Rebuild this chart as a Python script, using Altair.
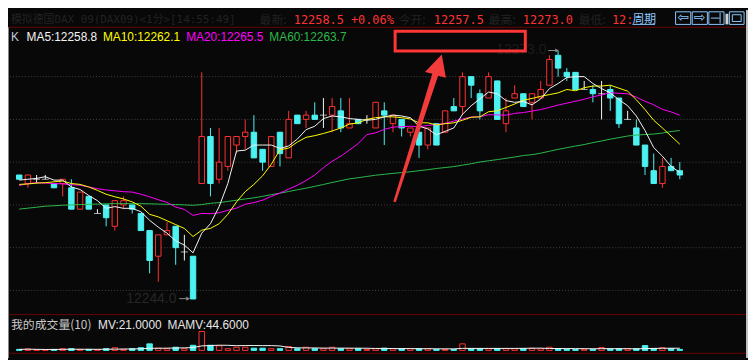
import altair as alt
import pandas as pd

# ---------------- data ----------------
opens = [12258.5, 12257.5, 12258.0, 12258.0, 12257.5, 12257.5, 12257.0, 12254.5, 12256.0, 12254.0,
         12255.0, 12252.5, 12255.0, 12255.0, 12254.0, 12252.0, 12249.0, 12251.5, 12252.5, 12249.5,
         12249.0, 12257.5, 12263.0, 12258.0, 12259.5, 12262.0, 12263.0, 12263.5, 12261.5, 12259.5,
         12263.5, 12260.5, 12265.5, 12265.0, 12265.5, 12265.5, 12265.5, 12266.0, 12264.0, 12265.0,
         12265.0, 12264.0, 12266.0, 12264.5, 12265.0, 12263.5, 12263.5, 12262.0, 12264.5, 12263.5,
         12266.5, 12266.5, 12270.0, 12268.0, 12267.5, 12269.5, 12264.5, 12267.5, 12268.0, 12267.0,
         12267.5, 12269.0, 12272.5, 12270.5, 12270.5, 12268.5, 12268.5, 12268.0, 12268.5, 12267.5,
         12265.0, 12264.0, 12262.0, 12259.0, 12257.5, 12259.5, 12259.0]
highs = [12258.5, 12258.5, 12258.5, 12258.5, 12257.5, 12258.0, 12258.0, 12256.5, 12256.0, 12254.5,
         12255.0, 12255.5, 12256.0, 12255.0, 12254.0, 12252.0, 12251.5, 12253.0, 12252.5, 12251.5,
         12249.0, 12270.5, 12264.0, 12264.0, 12263.0, 12263.0, 12265.0, 12265.5, 12261.5, 12263.0,
         12263.5, 12266.0, 12265.5, 12266.0, 12267.0, 12267.5, 12267.5, 12267.5, 12267.5, 12265.0,
         12265.5, 12267.0, 12267.0, 12265.5, 12265.0, 12264.0, 12263.5, 12264.0, 12264.5, 12266.0,
         12267.5, 12270.5, 12270.0, 12268.5, 12270.5, 12269.5, 12267.5, 12269.0, 12268.0, 12268.0,
         12269.5, 12272.5, 12273.0, 12271.0, 12270.5, 12269.5, 12269.0, 12269.5, 12269.0, 12267.5,
         12266.0, 12265.0, 12262.0, 12261.0, 12260.5, 12260.5, 12260.0]
lows = [12258.0, 12257.0, 12257.5, 12258.0, 12257.0, 12256.0, 12254.5, 12254.5, 12254.5, 12254.0,
        12252.5, 12252.0, 12254.5, 12254.0, 12252.0, 12247.0, 12246.0, 12251.5, 12248.0, 12248.5,
        12244.0, 12257.5, 12256.0, 12257.5, 12259.0, 12261.0, 12261.5, 12260.5, 12259.0, 12259.5,
        12259.5, 12260.5, 12264.5, 12264.0, 12265.0, 12264.0, 12263.5, 12263.5, 12264.0, 12264.5,
        12264.5, 12264.0, 12262.0, 12263.5, 12263.0, 12263.0, 12260.5, 12261.5, 12262.0, 12263.5,
        12266.0, 12265.5, 12267.5, 12265.0, 12267.5, 12265.0, 12263.5, 12267.5, 12266.5, 12265.0,
        12267.5, 12269.0, 12270.0, 12269.5, 12268.5, 12268.5, 12267.0, 12265.0, 12266.0, 12264.0,
        12265.0, 12262.0, 12258.5, 12257.5, 12257.0, 12259.0, 12258.0]
closes = [12258.0, 12258.5, 12258.0, 12258.0, 12257.0, 12258.0, 12254.5, 12256.5, 12254.5, 12254.0,
          12253.5, 12255.5, 12255.5, 12254.5, 12252.0, 12248.5, 12251.5, 12252.0, 12250.0, 12249.5,
          12244.0, 12263.0, 12257.5, 12260.0, 12263.0, 12263.0, 12263.5, 12260.5, 12260.0, 12263.0,
          12261.0, 12265.0, 12264.5, 12265.5, 12265.0, 12265.5, 12266.5, 12264.0, 12264.5, 12264.5,
          12265.0, 12267.0, 12265.5, 12265.5, 12264.0, 12264.0, 12262.0, 12264.0, 12262.0, 12266.0,
          12266.0, 12270.0, 12269.0, 12266.0, 12270.0, 12265.0, 12266.0, 12268.0, 12266.5, 12268.0,
          12268.5, 12272.0, 12271.0, 12270.0, 12268.5, 12268.5, 12268.0, 12268.0, 12267.5, 12264.5,
          12265.0, 12262.0, 12259.5, 12257.5, 12259.5, 12259.0, 12258.5]
volumes = [20, 30, 15, 10, 20, 35, 35, 20, 20, 15,
           35, 55, 25, 35, 55, 135, 45, 35, 65, 35,
           105, 390, 105, 95, 35, 65, 65, 45, 45, 35,
           35, 80, 35, 65, 35, 35, 65, 35, 35, 35,
           20, 35, 45, 35, 35, 35, 35, 35, 20, 20,
           20, 135, 35, 35, 35, 35, 35, 35, 35, 45,
           35, 65, 35, 20, 20, 25, 20, 60, 30, 35,
           35, 35, 100, 40, 55, 35, 21]
# moving-average values before enough bars are on screen
ma5_head = [12257.9, 12258.0, 12258.1, 12258.3]
ma10_head = [12257.4, 12257.45, 12257.55, 12257.6, 12257.7, 12257.8, 12257.5, 12257.4, 12257.1]
ma20_head = [12257.26, 12257.5, 12257.6, 12257.55, 12257.5, 12257.45, 12257.37, 12257.3, 12257.1,
             12256.9, 12256.75, 12256.65, 12256.55, 12256.5, 12256.25, 12255.95, 12255.6, 12255.3,
             12254.75]
ma60_head = [12254.51, 12254.62, 12254.73, 12254.85, 12254.9, 12254.96, 12255.0, 12255.04, 12255.07,
             12255.1, 12255.13, 12255.15, 12255.15, 12255.15, 12255.15, 12255.13, 12255.1, 12255.07,
             12255.04, 12255.0, 12254.96, 12255.04, 12255.19, 12255.27, 12255.41, 12255.55, 12255.7,
             12255.83, 12256.0, 12256.2, 12256.37, 12256.57, 12256.77, 12256.96, 12257.17, 12257.39,
             12257.62, 12257.84, 12258.05, 12258.18, 12258.33, 12258.47, 12258.58, 12258.69, 12258.78,
             12258.88, 12259.0, 12259.12, 12259.26, 12259.37, 12259.48, 12259.65, 12259.82, 12260.02,
             12260.16, 12260.3, 12260.45, 12260.6, 12260.78]
grid_prices = [12245, 12250, 12255, 12260, 12265, 12270]

# ---------------- build table ----------------
n = len(closes)
df = pd.DataFrame({"i": list(range(n)), "o": opens, "h": highs, "l": lows, "c": closes, "v": volumes})
df["zero"] = 0
df["kind"] = ["up" if c > o else ("down" if c < o else "flat") for o, c in zip(opens, closes)]


def ma(head, w):
    r = df["c"].rolling(w).mean().tolist()
    return list(head) + r[len(head):]


df["ma5"] = ma(ma5_head, 5)
df["ma10"] = ma(ma10_head, 10)
df["ma20"] = ma(ma20_head, 20)
df["ma60"] = ma(ma60_head, 60)
df["mamv"] = df["v"].rolling(10, min_periods=1).mean()

# ---------------- geometry / style ----------------
W, H = 748, 352
SX, SY = W / 756, H / 360


def px(x):
    return round(x * SX, 2)


def py(y):
    return round(y * SY, 2)


BG = "#080808"
RED = "#ff3232"
CYAN = "#4cf2f2"
WHITE = "#f4f4f4"
YELLOW = "#ffff00"
MAGENTA = "#ff00ff"
GREEN = "#2cb84a"
SEP = "#6a0404"
GRID = "#444444"
DARK = "#222222"
BLUE = "#8cc6ff"
CJK = "Noto Sans CJK SC"
MONO = "DejaVu Sans Mono, Noto Sans CJK SC"
SANS = "Liberation Sans"
NARROW = "Liberation Sans Narrow, Liberation Sans"

XS = alt.Scale(domain=[-6.5 / 9, (756 - 6.5) / 9], nice=False, zero=False)
PS = alt.Scale(domain=[12273 - (360 - 42.5) / 8.84, 12273 + 42.5 / 8.84], nice=False, zero=False)
VS = alt.Scale(domain=[-160, 7040], nice=False, zero=False)


def X():
    return alt.X("i:Q", scale=XS, axis=None)


def P(f):
    return alt.Y(f + ":Q", scale=PS, axis=None)


def V(f):
    return alt.Y(f + ":Q", scale=VS, axis=None)


one = pd.DataFrame({"k": [0]})


def label(text, x, y, color, size=12, font=SANS, align="left", **kw):
    return alt.Chart(one).mark_text(text=text, color=color, fontSize=size, font=font, align=align,
                                    baseline="middle", **kw).encode(x=alt.value(px(x)), y=alt.value(py(y)))


def hline(y, x1, x2, color, width=1, **kw):
    return alt.Chart(one).mark_rule(color=color, strokeWidth=width, **kw).encode(
        x=alt.value(px(x1)), x2=alt.value(px(x2)), y=alt.value(py(y)))


def vline(x, y1, y2, color, width=1):
    return alt.Chart(one).mark_rule(color=color, strokeWidth=width).encode(
        x=alt.value(px(x)), y=alt.value(py(y1)), y2=alt.value(py(y2)))


def box(x1, y1, x2, y2, stroke, width=1, fill=BG):
    return alt.Chart(one).mark_rect(fill=fill, stroke=stroke, strokeWidth=width).encode(
        x=alt.value(px(x1)), x2=alt.value(px(x2)), y=alt.value(py(y1)), y2=alt.value(py(y2)))


layers = []

# grid
layers.append(alt.Chart(pd.DataFrame({"p": grid_prices})).mark_rule(color=GRID, strokeDash=[1, 2], strokeWidth=1)
              .encode(y=P("p"), x=alt.value(px(2)), x2=alt.value(px(750))))

# candles
kind_color = alt.Color("kind:N", scale=alt.Scale(domain=["up", "down", "flat"], range=[RED, CYAN, WHITE]), legend=None)
layers.append(alt.Chart(df).mark_rule(strokeWidth=1).encode(x=X(), y=P("l"), y2="h:Q", color=kind_color))
layers.append(alt.Chart(df[df.kind == "up"]).mark_bar(size=5.5, fill=BG, stroke=RED, strokeWidth=1)
              .encode(x=X(), y=P("o"), y2="c:Q"))
layers.append(alt.Chart(df[df.kind == "down"]).mark_bar(size=5.5, fill=CYAN, stroke=CYAN, strokeWidth=1)
              .encode(x=X(), y=P("o"), y2="c:Q"))
layers.append(alt.Chart(df[df.kind == "flat"]).mark_tick(orient="horizontal", size=7, thickness=1, color=WHITE)
              .encode(x=X(), y=P("c")))

# moving averages
for f, col in [("ma60", GREEN), ("ma20", MAGENTA), ("ma10", YELLOW), ("ma5", WHITE)]:
    layers.append(alt.Chart(df).mark_line(color=col, strokeWidth=1).encode(x=X(), y=P(f)))

# volume panel
layers.append(alt.Chart(df[df.kind != "down"]).mark_bar(size=5.5, fill=BG, stroke=RED, strokeWidth=1)
              .encode(x=X(), y=V("v"), y2="zero:Q"))
layers.append(alt.Chart(df[df.kind == "down"]).mark_bar(size=5.5, fill=CYAN, stroke=CYAN, strokeWidth=1)
              .encode(x=X(), y=V("v"), y2="zero:Q"))
layers.append(alt.Chart(df).mark_line(color=WHITE, strokeWidth=1).encode(x=X(), y=V("mamv")))

# separators and borders
layers.append(hline(18, 0, 756, SEP))
layers.append(hline(315, 0, 756, SEP))
layers.append(hline(355, 0, 756, SEP))
layers.append(vline(0.5, 18, 360, "#8a8a8a"))
layers.append(box(754, 0, 756, 360, "#c4c4c4", 0, fill="#c4c4c4"))

# header
last = closes[-1]
layers.append(label("模拟德国DAX 09(DAX09)<1分>[14:55:49]", 3, 10, DARK, size=11, font=MONO))
layers.append(label("最新:", 257, 10, DARK, size=12, font=CJK))
layers.append(label(f"{last:.1f} +0.06%", 292, 10, RED, size=12, font=MONO))
layers.append(label("今开:", 399, 10, DARK, size=12, font=CJK))
layers.append(label(f"{opens[0] - 1.0:.1f}", 435, 10, RED, size=12, font=MONO))
layers.append(label("最高:", 491, 10, DARK, size=12, font=CJK))
layers.append(label(f"{max(highs):.1f}", 526, 10, RED, size=12, font=MONO))
layers.append(label("最低:", 583, 10, DARK, size=12, font=CJK))
layers.append(label("12:", 617, 10, RED, size=12, font=MONO))
layers.append(label("周期", 638, 9.5, BLUE, size=12, font=CJK))
layers.append(hline(15, 638, 661, BLUE))
for x1, glyph in [(682, "⇦"), (699, "⇨")]:
    layers.append(box(x1, 2, x1 + 15.5, 15, BLUE))
    layers.append(label(glyph, x1 + 7.8, 8.5, BLUE, size=14, font="DejaVu Sans", align="center"))
layers.append(box(716, 2, 731.5, 15, BLUE))
layers.append(hline(8.5, 718, 727, BLUE))
layers.append(vline(727.5, 3, 14, BLUE))
layers.append(box(733, 4, 736, 15, "#d0d0d0", 0, fill="#d0d0d0"))
layers.append(box(737, 2, 752, 15, BLUE))
layers.append(box(740, 5, 749, 12, BLUE))

# MA legend
layers.append(label("K", 3, 28, "#c4ccdc"))
layers.append(label(f"MA5:{df.ma5.iloc[-1]:.1f}", 19, 28, WHITE))
layers.append(label(f"MA10:{df.ma10.iloc[-1]:.1f}", 97, 28, YELLOW))
layers.append(label(f"MA20:{df.ma20.iloc[-1]:.1f}", 182, 28, MAGENTA))
layers.append(label(f"MA60:{df.ma60.iloc[-1]:.1f}", 267, 28, GREEN))

# volume legend
layers.append(label("我的成交量(10)", 3, 326, "#c8c8c8", size=12, font=CJK))
layers.append(label(f"MV:{volumes[-1]:.4f}", 92, 326, "#e6e6e6"))
layers.append(label(f"MAMV:{df.mamv.iloc[-1]:.4f}", 163, 326, "#e6e6e6"))

# extreme price markers
GRAYA = "#8c8c8c"
layers.append(label(f"{max(highs):.1f}", 550, 42, "#1c1c1c", size=14, font=NARROW, align="right"))
layers.append(hline(42, 552, 560, GRAYA))
layers.append(alt.Chart(one).mark_point(shape="triangle-right", size=18, filled=True, color=GRAYA, opacity=1)
              .encode(x=alt.value(px(561)), y=alt.value(py(42))))
layers.append(label(f"{min(lows):.1f}", 172, 298.5, "#262626", size=14, font=NARROW, align="right"))
layers.append(hline(298.5, 175, 183, GRAYA))
layers.append(alt.Chart(one).mark_point(shape="triangle-right", size=18, filled=True, color=GRAYA, opacity=1)
              .encode(x=alt.value(px(184)), y=alt.value(py(298.5))))

# red annotation: box and arrow
layers.append(alt.Chart(one).mark_rect(fillOpacity=0, stroke="#ff3636", strokeWidth=3).encode(
    x=alt.value(px(395.5)), x2=alt.value(px(528.5)), y=alt.value(py(22)), y2=alt.value(py(42.5))))
ARROW_PATH = ("M0.291,-0.948 L0.344,-0.65 L0.244,-0.675 L-0.3,0.95 L-0.331,0.9375 "
              "L0.169,-0.7 L0.075,-0.725 Z")
layers.append(alt.Chart(one).mark_point(shape=ARROW_PATH, size=24780, filled=True, fill="#f23b3b",
                                        strokeWidth=0, opacity=1)
              .encode(x=alt.value(px(420)), y=alt.value(py(122.5))))

chart = (alt.layer(*layers)
         .resolve_scale(y="independent")
         .properties(width=W, height=H, background=BG, padding=0,
                     autosize=alt.AutoSizeParams(type="none"))
         .configure_view(stroke=None, strokeWidth=0))

chart.save("out.html", embed_options={"renderer": "svg", "actions": False})
